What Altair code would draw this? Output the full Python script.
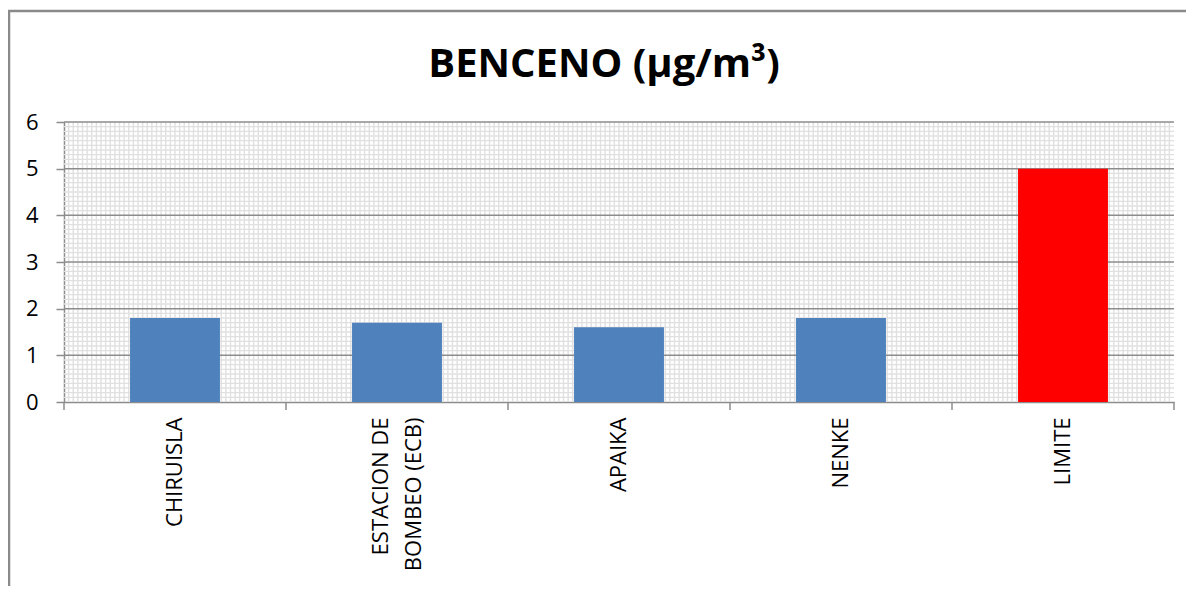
import altair as alt
import pandas as pd

categories = ["CHIRUISLA", "ESTACION DE|BOMBEO (ECB)", "APAIKA", "NENKE", "LIMITE"]
values = [1.8, 1.7, 1.6, 1.8, 5.0]
bar_colors = ["#4F81BD", "#4F81BD", "#4F81BD", "#4F81BD", "#FF0000"]
y_ticks = [0, 1, 2, 3, 4, 5, 6]
title_text = "BENCENO (µg/m³)"

W, H = 1110, 280
NX = 240  # minor grid cells across the plot

df = pd.DataFrame({"cat": categories, "val": values, "color": bar_colors})
minor_y = pd.DataFrame({"val": [i / 10 for i in range(1, 60) if i % 10 != 0]})
major_y = pd.DataFrame({"val": y_ticks[1:]})
minor_x = pd.DataFrame({"gx": list(range(1, NX))})
bounds = pd.DataFrame({"gx": [i * NX / len(categories) for i in range(len(categories) + 1)]})
one = pd.DataFrame({"t": [title_text]})

yscale = alt.Scale(domain=[0, 6], nice=False)
xgscale = alt.Scale(domain=[0, NX], nice=False)
yaxis = alt.Axis(values=y_ticks, title=None, grid=False, domainColor="#8c8c8c", domainWidth=1.5,
                 tickColor="#8c8c8c", tickSize=8, tickWidth=1.5, labelFontSize=22,
                 labelColor="#000000", labelFont="Open Sans", labelPadding=18)

NB = "\u00a0"
gx_layer = alt.Chart(minor_x).mark_rule(color="#e0e0e0", strokeWidth=1.4).encode(
    x=alt.X("gx:Q", scale=xgscale, axis=None)
)
gy_layer = alt.Chart(minor_y).mark_rule(color="#e0e0e0", strokeWidth=1.4).encode(
    y=alt.Y("val:Q", scale=yscale, axis=yaxis)
)
my_layer = alt.Chart(major_y).mark_rule(color="#8c8c8c", strokeWidth=1.5).encode(
    y=alt.Y("val:Q", scale=yscale, axis=yaxis)
)
bars = alt.Chart(df).mark_bar().encode(
    x=alt.X("cat:N", sort=categories,
            scale=alt.Scale(paddingInner=0.595, paddingOuter=0.2975),
            axis=alt.Axis(title=None, labelAngle=-90, labelFontSize=22, labelFont="Open Sans",
                          labelColor="#000000",
                          labelExpr="split(replace(datum.label, '|', '" + NB * 2 + "|'), '|')",
                          labelLineHeight=33,
                          labelOffset={"condition": {"test": "indexof(datum.label, '|') >= 0",
                                                     "value": -16}, "value": 0},
                          ticks=False, domainColor="#8c8c8c", domainWidth=1.5,
                          labelPadding=15, labelBaseline="middle")),
    y=alt.Y("val:Q", scale=yscale, axis=yaxis),
    color=alt.Color("color:N", scale=None),
)

xticks = alt.Chart(bounds).mark_rule(color="#8c8c8c", strokeWidth=1.5).encode(
    x=alt.X("gx:Q", scale=xgscale, axis=None), y=alt.value(H), y2=alt.value(H + 8)
)
border_top = alt.Chart(one).mark_rule(color="#8a8a8a", strokeWidth=2.5).encode(
    x=alt.value(-56), x2=alt.value(1200), y=alt.value(-111)
)
border_left = alt.Chart(one).mark_rule(color="#8a8a8a", strokeWidth=2.5).encode(
    x=alt.value(-55), y=alt.value(-112), y2=alt.value(600)
)
title = alt.Chart(one).mark_text(fontSize=40, fontWeight="bold", font="Open Sans",
                                 color="#000000", baseline="alphabetic", align="center").encode(
    text="t:N", x=alt.value(540), y=alt.value(-45)
)

chart = alt.layer(gx_layer, gy_layer, my_layer, bars, xticks, border_top, border_left, title).resolve_scale(
    x="independent"
).properties(
    width=W, height=H,
    padding={"left": 56, "top": 114, "right": 12, "bottom": 184},
    autosize=alt.AutoSizeParams(type="none"),
).configure_view(stroke=None)

chart.save("out.html", embed_options={"renderer": "svg", "actions": False})
